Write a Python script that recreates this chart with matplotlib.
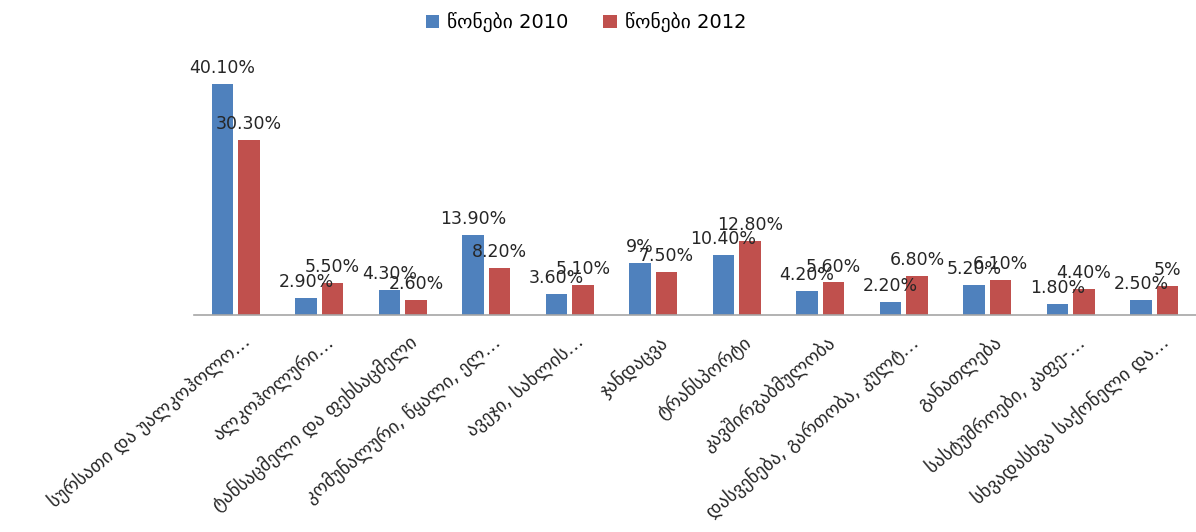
import numpy as np
import matplotlib
matplotlib.use("Agg")
import matplotlib.pyplot as plt
import matplotlib.transforms as mtransforms

categories = [
    "სურსათი და უალკოჰოლო…",
    "ალკოჰოლური…",
    "ტანსაცმელი და ფეხსაცმელი",
    "კომუნალური, წყალი, ელ…",
    "ავეჯი, სახლის…",
    "ჯანდაცვა",
    "ტრანსპორტი",
    "კავშირგაბმულობა",
    "დასვენება, გართობა, კულტ…",
    "განათლება",
    "სასტუმროები, კაფე-…",
    "სხვადასხვა საქონელი და…",
]
vals_2010 = [40.1, 2.9, 4.3, 13.9, 3.6, 9, 10.4, 4.2, 2.2, 5.2, 1.8, 2.5]
vals_2012 = [30.3, 5.5, 2.6, 8.2, 5.1, 7.5, 12.8, 5.6, 6.8, 6.1, 4.4, 5]
series_names = ["წონები 2010", "წონები 2012"]

BLUE = "#4F81BD"
RED = "#C0504D"

plt.rcParams["font.family"] = ["DejaVu Sans"]


def fmt(v):
    if float(v).is_integer():
        return f"{int(v)}%"
    return f"{v:.2f}%"


fig = plt.figure(figsize=(11.96, 5.32), dpi=100)
ax = fig.add_axes([0.1622, 0.4085, 0.8378, 0.4866])

x = np.arange(len(categories))
w = 0.257
b1 = ax.bar(x - 0.159, vals_2010, w, color=BLUE, label=series_names[0])
b2 = ax.bar(x + 0.159, vals_2012, w, color=RED, label=series_names[1])

for bars, vals in [(b1, vals_2010), (b2, vals_2012)]:
    for r, v in zip(bars, vals):
        ax.annotate(fmt(v), (r.get_x() + r.get_width() / 2, r.get_height()),
                    xytext=(0, 5), textcoords="offset points",
                    ha="center", va="bottom", fontsize=12.5, color="#262626")

ax.set_xlim(-0.5, len(categories) - 0.5)
ax.set_ylim(0, 45)
ax.set_yticks([])
for s in ["top", "right", "left"]:
    ax.spines[s].set_visible(False)
ax.spines["bottom"].set_color("#A6A6A6")
ax.spines["bottom"].set_linewidth(1.2)
ax.set_xticks(x)
ax.set_xticklabels(categories, rotation=40, ha="right", va="center",
                   rotation_mode="anchor", fontsize=13.5, color="#262626")
ax.tick_params(axis="x", length=0, pad=18)
shift = mtransforms.ScaledTranslation(0.12, 0, fig.dpi_scale_trans)
for lbl in ax.get_xticklabels():
    lbl.set_transform(lbl.get_transform() + shift)

fig.legend(handles=[b1, b2], loc="upper center", bbox_to_anchor=(0.49, 1.01),
           ncol=2, frameon=False, fontsize=14, handlelength=0.7,
           handleheight=0.7, columnspacing=1.8, handletextpad=0.4)

fig.savefig("out.png", dpi=100)
